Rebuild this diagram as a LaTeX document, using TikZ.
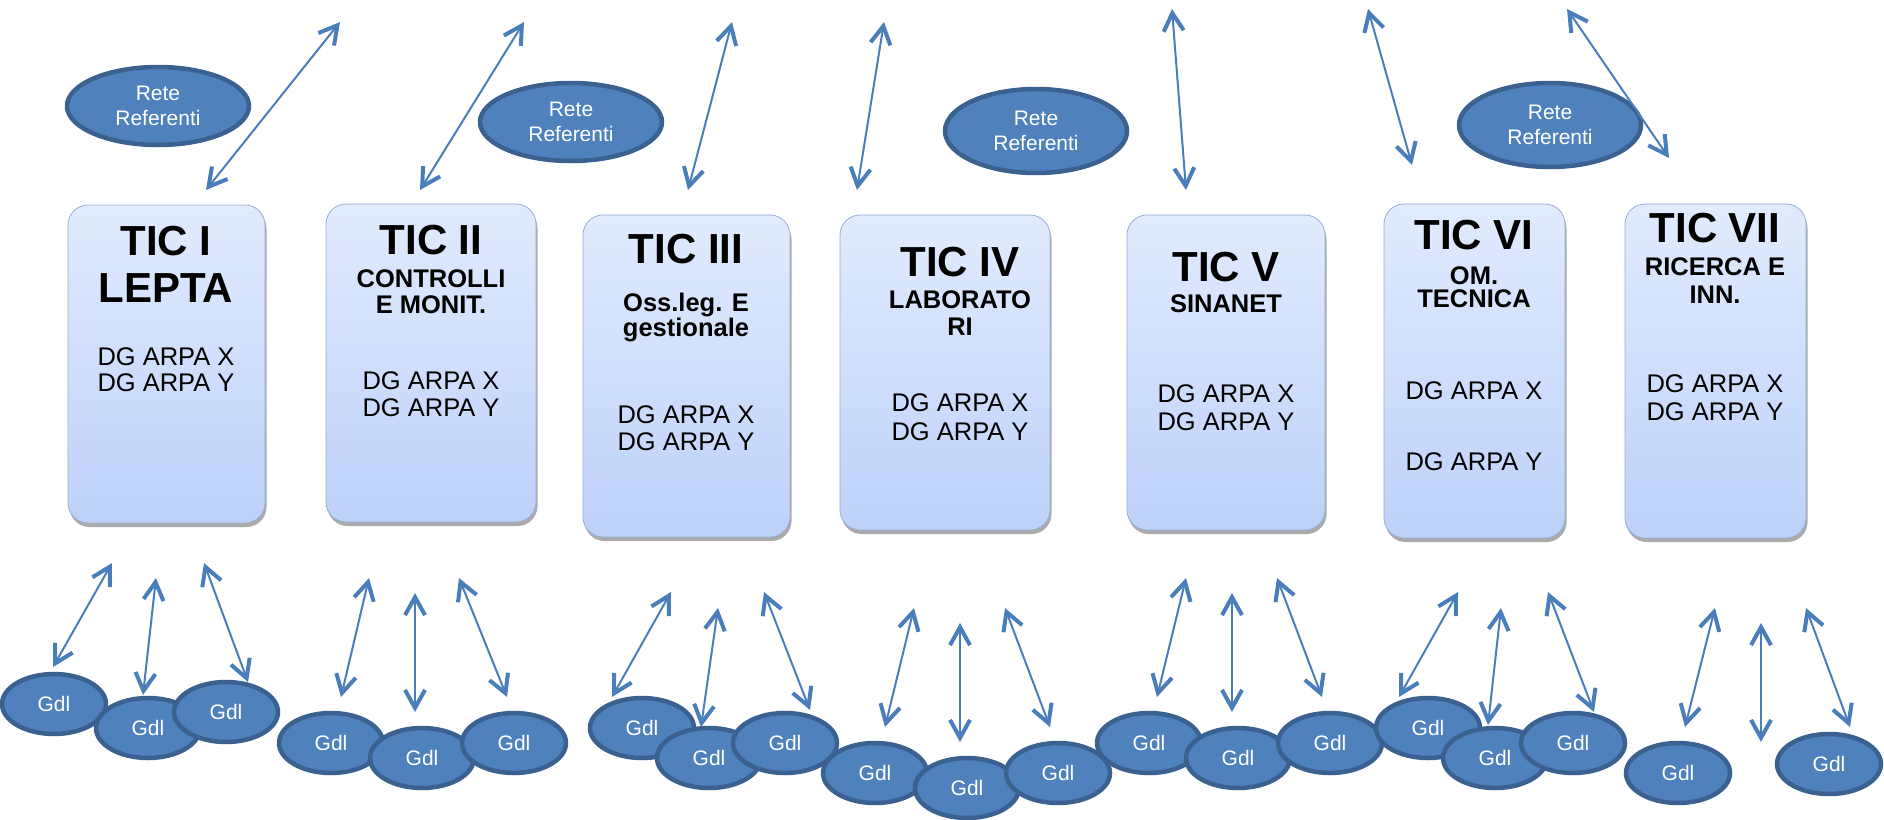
\documentclass[tikz,border=0pt]{standalone}
\usepackage{fontspec}
\setmainfont{Liberation Sans}
\usetikzlibrary{arrows.meta,shapes.geometric,shadows}
\definecolor{gdlfill}{HTML}{4F81BD}
\definecolor{gdledge}{HTML}{3A6190}
\definecolor{arrblue}{HTML}{4A7EBB}
\definecolor{boxtop}{HTML}{E1EBFE}
\definecolor{boxbot}{HTML}{BDD1F9}
\definecolor{boxedge}{HTML}{95AFD6}
\tikzset{
  rete/.style={ellipse, draw=gdledge, fill=gdlfill, line width=4.5pt, minimum width=182pt,
    minimum height=#1, inner sep=0pt, text=white, align=center, font=\fontsize{21}{25}\selectfont},
  rete/.default=78pt,
  gdl/.style={ellipse, draw=gdledge, fill=gdlfill, line width=4.5pt, minimum width=104pt,
    minimum height=60pt, inner sep=0pt, text=white, font=\fontsize{21}{25}\selectfont},
  ticbox/.style={rounded corners=20pt, draw=boxedge, line width=0.8pt, top color=boxtop,
    bottom color=boxbot, drop shadow={shadow xshift=1.5pt, shadow yshift=-4pt, fill=black!60, opacity=0.55}},
  ticname/.style={font=\bfseries\fontsize{42}{47}\selectfont, align=center, inner sep=0pt},
  ticsub/.style={font=\bfseries\fontsize{25.5}{#1}\selectfont, align=center, inner sep=0pt, text depth=0pt},
  ticsub/.default=26pt,
  ticdg/.style={font=\fontsize{25.5}{#1}\selectfont, align=center, inner sep=0pt},
  ticdg/.default=27pt,
  link/.style={<->, draw=arrblue, line width=2pt},
}
\begin{document}
\begin{tikzpicture}[x=1pt, y=-1pt, line join=round,
  >={Straight Barb[length=18pt,width=20pt,line width=4pt]}]
\useasboundingbox (0,0) rectangle (1884,819);

\node[ticbox, minimum width=197pt, minimum height=318pt] (tic1) at (166.5,364) {};
\node[ticbox, minimum width=210pt, minimum height=318pt] (tic2) at (431,363) {};
\node[ticbox, minimum width=207pt, minimum height=322pt] (tic3) at (686.5,376) {};
\node[ticbox, minimum width=210pt, minimum height=315pt] (tic4) at (945,372.5) {};
\node[ticbox, minimum width=198pt, minimum height=315pt] (tic5) at (1226,372.5) {};
\node[ticbox, minimum width=181pt, minimum height=334pt] (tic6) at (1474.5,371) {};
\node[ticbox, minimum width=181pt, minimum height=334pt] (tic7) at (1715.5,371) {};

\node[ticname] (tic1n) at (166,264.5) {TIC I\\LEPTA};
\node[ticdg=26pt] (tic1d) at (166,370) {DG ARPA X\\DG ARPA Y};
\node[ticname] (tic2n) at (431,240) {TIC II};
\node[ticsub] (tic2s) at (431,292) {CONTROLLI\\E MONIT.};
\node[ticdg] (tic2d) at (431,394.5) {DG ARPA X\\DG ARPA Y};
\node[ticname] (tic3n) at (686,249) {TIC III};
\node[ticsub=25pt] (tic3s) at (686,315) {Oss.leg. E\\gestionale};
\node[ticdg] (tic3d) at (686,428.5) {DG ARPA X\\DG ARPA Y};
\node[ticname] (tic4n) at (960,262) {TIC IV};
\node[ticsub=27pt] (tic4s) at (960,313.5) {LABORATO\\RI};
\node[ticdg=29pt] (tic4d) at (960,417.5) {DG ARPA X\\DG ARPA Y};
\node[ticname] (tic5n) at (1226,267) {TIC V};
\node[ticsub] (tic5s) at (1226,304) {SINANET};
\node[ticdg=28pt] (tic5d) at (1226,408) {DG ARPA X\\DG ARPA Y};
\node[ticname] (tic6n) at (1474,235) {TIC VI};
\node[ticsub=23pt] (tic6s) at (1474,287.5) {OM.\\TECNICA};
\node[ticdg] (tic6x) at (1474,391) {DG ARPA X};
\node[ticdg] (tic6y) at (1474,462) {DG ARPA Y};
\node[ticname] (tic7n) at (1715,228) {TIC VII};
\node[ticsub=28pt] (tic7s) at (1715,281) {RICERCA E\\INN.};
\node[ticdg=28pt] (tic7d) at (1715,398) {DG ARPA X\\DG ARPA Y};

\node[rete] (rete1) at (158,106) {Rete\\Referenti};
\node[rete] (rete2) at (571,122) {Rete\\Referenti};
\node[rete=84pt] (rete3) at (1036,131) {Rete\\Referenti};
\node[rete=84pt] (rete4) at (1550,125) {Rete\\Referenti};

\foreach \n/\p in {1/{54,704},2/{148,728},3/{226,712},4/{331,743},5/{422,758},
  6/{514,743},7/{642,728},8/{709,758},9/{785,743},10/{875,773},11/{967,788},
  12/{1058,773},13/{1149,743},14/{1238,758},15/{1330,743},16/{1428,728},
  17/{1495,758},18/{1573,743},19/{1678,773},20/{1829,764}}
  \node[gdl] (g\n) at (\p) {Gdl};

\foreach \n/\a/\b in {1/{206,190}/{340,22},2/{420,190}/{524,22},3/{688,190}/{732,22},
  4/{857,190}/{884,22},5/{1186,190}/{1172,9},6/{1412,165}/{1368,9},7/{1669,158}/{1567,9}}
  {\path (\a) coordinate (ta\n) (\b) coordinate (tb\n);
   \draw[link] (ta\n) -- (tb\n);}

\foreach \n/\a/\b in {1/{53,667}/{112,563},2/{143,695}/{156,578},3/{248,682}/{204,563},
  4/{341,697}/{369,578},5/{415,712}/{415,593},6/{507,697}/{459,578},
  7/{612,697}/{671,592},8/{701,727}/{718,608},9/{810,710}/{764,592},
  10/{885,727}/{914,608},11/{960,742}/{960,623},12/{1050,727}/{1005,608},
  13/{1157,697}/{1186,578},14/{1232,712}/{1232,593},15/{1322,697}/{1277,578},
  16/{1399,697}/{1458,592},17/{1488,725}/{1501,608},18/{1594,712}/{1548,592},
  19/{1685,727}/{1715,608},20/{1761,742}/{1761,623},21/{1850,727}/{1806,608}}
  {\path (\a) coordinate (ba\n) (\b) coordinate (bb\n);
   \draw[link] (ba\n) -- (bb\n);}
\end{tikzpicture}
\end{document}
